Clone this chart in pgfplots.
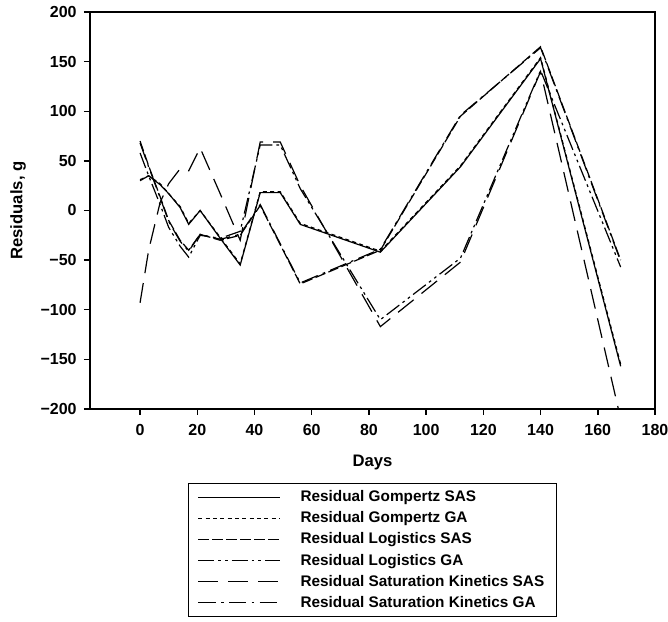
\documentclass[border=0pt]{standalone}
\usepackage{fontspec}
\setmainfont{Liberation Sans}
\usepackage{pgfplots}
\pgfplotsset{compat=1.18}

\begin{document}
\begin{tikzpicture}
\begin{axis}[
    scale only axis,
    width=423.75pt, height=297.75pt,
    xmin=-17.5, xmax=180,
    ymin=-200, ymax=200,
    axis line style={line width=1.1pt},
    tick style={line width=1.1pt, black},
    tick align=outside,
    tick pos=left,
    major tick length=4.5pt,
    xtick={0,20,40,60,80,100,120,140,160,180},
    xticklabels={0,20,40,60,80,100,120,140,160,180},
    ytick={-200,-150,-100,-50,0,50,100,150,200},
    yticklabels={−200,−150,−100,−50,0,50,100,150,200},
    tick label style={font=\fontsize{12}{14}\selectfont\bfseries},
    xticklabel style={yshift=-3.5pt},
    yticklabel style={xshift=-2pt},
    xlabel={Days},
    ylabel={Residuals, g},
    label style={font=\fontsize{12.5}{14}\selectfont\bfseries},
    xlabel style={at={([yshift=-40pt]axis description cs:0.5,0)}, anchor=center},
    ylabel style={at={([xshift=-54pt]axis description cs:0,0.5)}, anchor=center},
    every axis plot/.append style={black, line width=0.9pt, no markers},
    legend cell align=left,
    legend style={at={([yshift=-55.5pt]axis description cs:0.5,0)}, anchor=north,
        draw=black, line width=1.1pt,
        font=\fontsize{11.5}{14}\selectfont\bfseries,
        row sep=1.6pt, inner xsep=7pt, inner ysep=3pt,
        nodes={inner sep=2.2pt}},
    legend image code/.code={\draw[#1, line width=0.9pt] (0pt,0pt) -- (61pt,0pt);
        \path (74pt,0pt);},
]
% Gompertz SAS
\addplot[solid] coordinates {
(0,30) (3,35) (7,26) (10,17) (14,3) (17,-14) (21,0) (28,-28) (35,-55)
(42,18) (49,18) (56,-14) (84,-42) (112,44) (140,153) (168,-157)};
% Gompertz GA
\addplot[dash pattern=on 3pt off 2.5pt] coordinates {
(0,31) (3,35) (7,27) (10,17) (14,4) (17,-13) (21,0) (28,-27) (35,-54)
(42,19) (49,19) (56,-13) (84,-41) (112,45) (140,154) (168,-155)};
% Logistics SAS
\addplot[dash pattern=on 8pt off 2.5pt] coordinates {
(0,70) (3,45) (7,14) (10,-10) (14,-30) (17,-40) (21,-24) (28,-30) (35,-25)
(42,5) (56,-74) (84,-40) (112,95) (140,165) (168,-50)};
% Logistics GA
\addplot[dash pattern=on 12pt off 3pt on 2pt off 3pt on 2pt off 3pt] coordinates {
(0,58) (3,35) (7,6) (10,-17) (14,-36) (17,-47) (21,-25) (28,-28) (35,-21)
(42,66) (49,66) (56,22) (84,-110) (112,-48) (140,141) (168,-57)};
% Saturation Kinetics SAS
\addplot[dash pattern=on 15pt off 7.5pt] coordinates {
(0,-93) (3,-40) (7,8) (10,27) (14,42) (17,40) (21,63) (28,17) (35,-30)
(42,69) (49,69) (56,25) (84,-117) (112,-52) (140,140) (168,-210)};
% Saturation Kinetics GA
\addplot[dash pattern=on 13pt off 4pt on 2pt off 4pt] coordinates {
(0,68) (3,44) (7,13) (10,-11) (14,-31) (17,-41) (21,-24) (28,-29) (35,-24)
(42,6) (56,-73) (84,-39) (112,96) (140,164) (168,-51)};
\legend{Residual Gompertz SAS, Residual Gompertz GA, Residual Logistics SAS,
    Residual Logistics GA, Residual Saturation Kinetics SAS, Residual Saturation Kinetics GA}
\coordinate (bl) at (rel axis cs:0,0);
\coordinate (tr) at (rel axis cs:1,1);
\end{axis}
\pgfresetboundingbox
\path ([shift={(-67.5pt,-159.75pt)}]bl) rectangle ([shift={(9.75pt,9pt)}]tr);
\end{tikzpicture}
\end{document}
